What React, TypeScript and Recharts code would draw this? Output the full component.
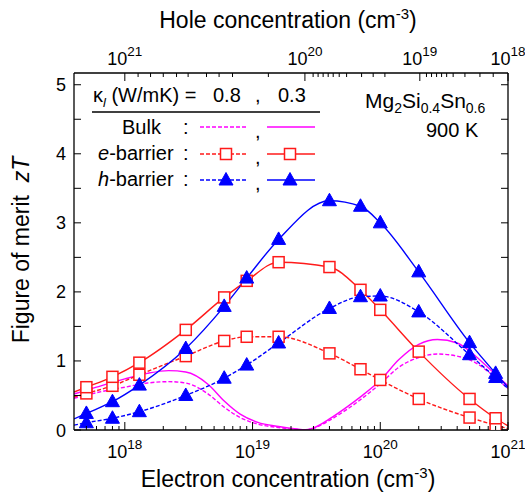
import React from "react";
import { LineChart, Line, XAxis, YAxis } from "recharts";

// ---------- data ----------
const X_MIN = 4e17;
const X_MAX = 1e21;
const MARKER_X = [5e17, 8e17, 1.3e18, 3e18, 6e18, 9e18, 1.6e19, 4e19, 7e19, 1e20, 2e20, 5e20, 8e20];

const E_BARRIER_03 = [0.62, 0.77, 0.975, 1.45, 1.92, 2.16, 2.43, 2.36, 2.03, 1.74, 1.135, 0.45, 0.17];
const E_BARRIER_03_EDGES = [0.55, 0.06];
const E_BARRIER_08 = [0.53, 0.64, 0.8, 1.07, 1.29, 1.35, 1.35, 1.11, 0.88, 0.725, 0.45, 0.18, 0.07];
const E_BARRIER_08_EDGES = [0.48, 0.02];
const H_BARRIER_03 = [0.24, 0.41, 0.65, 1.18, 1.79, 2.2, 2.76, 3.32, 3.24, 3.0, 2.29, 1.265, 0.82];
const H_BARRIER_03_EDGES = [0.16, 0.62];
const H_BARRIER_08 = [0.105, 0.17, 0.265, 0.5, 0.75, 0.94, 1.26, 1.76, 1.93, 1.94, 1.71, 1.09, 0.76];
const H_BARRIER_08_EDGES = [0.07, 0.6];

const BULK_X = [4e17, 6e17, 1e18, 1.5e18, 2.2e18, 3e18, 4.5e18, 6e18, 8e18, 1.1e19, 1.6e19, 2.2e19, 2.6e19, 3e19, 4e19, 5.5e19, 7e19, 1e20, 1.4e20, 2e20, 2.8e20, 4e20, 5.5e20, 7.5e20, 1e21];
const BULK_03 = [0.52, 0.62, 0.74, 0.82, 0.86, 0.84, 0.66, 0.42, 0.23, 0.11, 0.05, 0.014, 0.003, 0.03, 0.16, 0.335, 0.48, 0.72, 1.02, 1.24, 1.31, 1.26, 1.08, 0.85, 0.64];
const BULK_08 = [0.46, 0.54, 0.62, 0.68, 0.7, 0.68, 0.52, 0.33, 0.18, 0.085, 0.035, 0.01, 0.002, 0.025, 0.14, 0.3, 0.44, 0.67, 0.91, 1.05, 1.1, 1.07, 0.98, 0.8, 0.6];

// bottom axis (electron concentration)
const BOTTOM_MAJOR = [1e18, 1e19, 1e20, 1e21];
const BOTTOM_MAJOR_EXP = ["18", "19", "20", "21"];
const BOTTOM_MINOR = [
  5e17, 6e17, 7e17, 8e17, 9e17,
  2e18, 3e18, 4e18, 5e18, 6e18, 7e18, 8e18, 9e18,
  2e19, 3e19, 4e19, 5e19, 6e19, 7e19, 8e19, 9e19,
  2e20, 3e20, 4e20, 5e20, 6e20, 7e20, 8e20, 9e20,
];

// top axis (hole concentration) — positions expressed on the electron scale
const TOP_MAJOR = [1e18, 2.57e19, 2.04e20, 1e21];
const TOP_MAJOR_EXP = ["21", "20", "19", "18"];
const TOP_MINOR = [
  1.27e18, 1.59e18, 2.0e18, 2.54e18, 3.13e18, 4.36e18, 5.47e18, 6.97e18, 1.33e19,
  2.98e19, 3.26e19, 3.57e19, 3.91e19, 4.28e19, 4.77e19, 5.45e19, 7.14e19, 8.8e19, 1.087e20,
  2.3e20, 2.52e20, 2.76e20, 3.02e20, 3.31e20, 3.72e20, 4.6e20, 6.03e20, 7.66e20,
];

const Y_MAJOR = [0, 1, 2, 3, 4, 5];
const Y_MINOR = [0.5, 1.5, 2.5, 3.5, 4.5];
const Y_MAX = 5.17;

// ---------- helpers ----------
const FONT = "'Liberation Sans', Arial, Helvetica, sans-serif";
const MAGENTA = "#ff00ff";
const RED = "#ff1a1a";
const BLUE = "#0000ff";

type Pt = { x: number; y: number; m: boolean };
const buildSeries = (vals: number[], edges: number[]): Pt[] => [
  { x: X_MIN, y: edges[0], m: false },
  ...MARKER_X.map((x, i) => ({ x, y: vals[i], m: true })),
  { x: X_MAX, y: edges[1], m: false },
];
const buildBulk = (vals: number[]): Pt[] => BULK_X.map((x, i) => ({ x, y: vals[i], m: false }));

const bulk03 = buildBulk(BULK_03);
const bulk08 = buildBulk(BULK_08);
const e03 = buildSeries(E_BARRIER_03, E_BARRIER_03_EDGES);
const e08 = buildSeries(E_BARRIER_08, E_BARRIER_08_EDGES);
const h03 = buildSeries(H_BARRIER_03, H_BARRIER_03_EDGES);
const h08 = buildSeries(H_BARRIER_08, H_BARRIER_08_EDGES);

const Square = ({ cx, cy }: { cx: number; cy: number }) => (
  <rect x={cx - 5.5} y={cy - 5.5} width={11} height={11} fill="#fff" stroke={RED} strokeWidth={1.5} />
);
const Triangle = ({ cx, cy }: { cx: number; cy: number }) => (
  <path d={`M${cx},${cy - 7.5} L${cx + 7},${cy + 5} L${cx - 7},${cy + 5} Z`} fill={BLUE} stroke={BLUE} strokeWidth={1} />
);

const squareDot = (p: any) =>
  p.payload && p.payload.m ? <Square key={`s${p.index}`} cx={p.cx} cy={p.cy} /> : <g key={`s${p.index}`} />;
const triDot = (p: any) =>
  p.payload && p.payload.m ? <Triangle key={`t${p.index}`} cx={p.cx} cy={p.cy} /> : <g key={`t${p.index}`} />;

const BottomTick = (props: any) => {
  const { x, y, payload } = props;
  const idx = BOTTOM_MAJOR.indexOf(payload.value);
  const major = idx >= 0;
  return (
    <g>
      <line x1={x} x2={x} y1={y} y2={y - (major ? 8 : 4)} stroke="#000" strokeWidth={1} />
      {major && (
        <text x={x} y={y + 28} textAnchor="middle" fontFamily={FONT} fontSize={18} fill="#000">
          10<tspan dy={-9} fontSize={13.5}>{BOTTOM_MAJOR_EXP[idx]}</tspan>
        </text>
      )}
    </g>
  );
};

const TopTick = (props: any) => {
  const { x, y, payload } = props;
  const idx = TOP_MAJOR.indexOf(payload.value);
  const major = idx >= 0;
  return (
    <g>
      <line x1={x} x2={x} y1={y} y2={y + (major ? 8 : 4)} stroke="#000" strokeWidth={1} />
      {major && (
        <text x={x} y={y - 8} textAnchor="middle" fontFamily={FONT} fontSize={18} fill="#000">
          10<tspan dy={-9} fontSize={13.5}>{TOP_MAJOR_EXP[idx]}</tspan>
        </text>
      )}
    </g>
  );
};

const LeftTick = (props: any) => {
  const { x, y, payload } = props;
  const major = Y_MAJOR.includes(payload.value);
  return (
    <g>
      <line x1={x} x2={x + 7} y1={y} y2={y} stroke="#000" strokeWidth={1} />
      {major && (
        <text x={x - 8} y={y + 6.5} textAnchor="end" fontFamily={FONT} fontSize={18} fill="#000">
          {payload.value}
        </text>
      )}
    </g>
  );
};

const RightTick = (props: any) => {
  const { x, y } = props;
  return <line x1={x} x2={x - 7} y1={y} y2={y} stroke="#000" strokeWidth={1} />;
};

const axisLineStyle = { stroke: "#000", strokeWidth: 1.3 };

export default function App() {
  return (
    <div style={{ position: "absolute", left: 0, top: 0, width: 525, height: 493, background: "#fff" }}>
      <LineChart width={525} height={493} margin={{ top: 0, right: 0, bottom: 0, left: 0 }}>
        <XAxis
          xAxisId="bottom"
          dataKey="x"
          type="number"
          scale="log"
          domain={[X_MIN, X_MAX]}
          allowDataOverflow
          ticks={[...BOTTOM_MAJOR, ...BOTTOM_MINOR]}
          interval={0}
          tick={BottomTick}
          tickLine={false}
          tickSize={0}
          tickMargin={0}
          axisLine={axisLineStyle}
          height={63}
        />
        <XAxis
          xAxisId="top"
          orientation="top"
          dataKey="x"
          type="number"
          scale="log"
          domain={[X_MIN, X_MAX]}
          allowDataOverflow
          ticks={[...TOP_MAJOR, ...TOP_MINOR]}
          interval={0}
          tick={TopTick}
          tickLine={false}
          tickSize={0}
          tickMargin={0}
          axisLine={axisLineStyle}
          height={73}
        />
        <YAxis
          yAxisId="left"
          type="number"
          domain={[0, Y_MAX]}
          allowDataOverflow
          ticks={[...Y_MAJOR, ...Y_MINOR]}
          interval={0}
          tick={LeftTick}
          tickLine={false}
          tickSize={0}
          tickMargin={0}
          axisLine={axisLineStyle}
          width={74}
        />
        <YAxis
          yAxisId="right"
          orientation="right"
          type="number"
          domain={[0, Y_MAX]}
          allowDataOverflow
          ticks={[...Y_MAJOR, ...Y_MINOR]}
          interval={0}
          tick={RightTick}
          tickLine={false}
          tickSize={0}
          tickMargin={0}
          axisLine={axisLineStyle}
          width={17}
        />
        <Line xAxisId="bottom" yAxisId="left" data={bulk08} dataKey="y" type="monotone" stroke={MAGENTA} strokeWidth={1.4} strokeDasharray="4 2" dot={false} isAnimationActive={false} />
        <Line xAxisId="bottom" yAxisId="left" data={bulk03} dataKey="y" type="monotone" stroke={MAGENTA} strokeWidth={1.4} dot={false} isAnimationActive={false} />
        <Line xAxisId="bottom" yAxisId="left" data={e08} dataKey="y" type="monotone" stroke={RED} strokeWidth={1.4} strokeDasharray="4 2" dot={squareDot} isAnimationActive={false} />
        <Line xAxisId="bottom" yAxisId="left" data={e03} dataKey="y" type="monotone" stroke={RED} strokeWidth={1.4} dot={squareDot} isAnimationActive={false} />
        <Line xAxisId="bottom" yAxisId="left" data={h08} dataKey="y" type="monotone" stroke={BLUE} strokeWidth={1.4} strokeDasharray="4 2" dot={triDot} isAnimationActive={false} />
        <Line xAxisId="bottom" yAxisId="left" data={h03} dataKey="y" type="monotone" stroke={BLUE} strokeWidth={1.4} dot={triDot} isAnimationActive={false} />
      </LineChart>

      <svg width={525} height={493} style={{ position: "absolute", left: 0, top: 0, pointerEvents: "none" }} fontFamily={FONT}>
        {/* axis titles */}
        <text x={288} y={28} textAnchor="middle" fontSize={23}>
          Hole concentration (cm<tspan dy={-9} fontSize={15}>-3</tspan><tspan dy={9}>)</tspan>
        </text>
        <text x={288} y={487} textAnchor="middle" fontSize={23}>
          Electron concentration (cm<tspan dy={-9} fontSize={15}>-3</tspan><tspan dy={9}>)</tspan>
        </text>
        <text transform="translate(29,250) rotate(-90)" textAnchor="middle" fontSize={23}>
          {"Figure of merit\u00a0\u00a0"}<tspan fontStyle="italic">zT</tspan>
        </text>

        {/* legend header */}
        <text x={93} y={102} fontSize={20}>
          κ<tspan dy={5} fontSize={13} fontStyle="italic">l</tspan><tspan dy={-5}> (W/mK) =</tspan>
        </text>
        <text x={213} y={102} fontSize={20}>0.8</text>
        <text x={255} y={102} fontSize={20}>,</text>
        <text x={278} y={102} fontSize={20}>0.3</text>
        <line x1={92} x2={320} y1={112} y2={112} stroke="#000" strokeWidth={1.3} />

        {/* Bulk row */}
        <text x={122} y={134} fontSize={20}>Bulk</text>
        <text x={183} y={134} fontSize={20}>:</text>
        <line x1={200} x2={248} y1={127} y2={127} stroke={MAGENTA} strokeWidth={1.4} strokeDasharray="4 2" />
        <text x={255} y={138} fontSize={20}>,</text>
        <line x1={267} x2={315} y1={127} y2={127} stroke={MAGENTA} strokeWidth={1.4} />

        {/* e-barrier row */}
        <text x={98} y={160} fontSize={20}>
          <tspan fontStyle="italic">e</tspan>-barrier
        </text>
        <text x={183} y={160} fontSize={20}>:</text>
        <line x1={200} x2={248} y1={154} y2={154} stroke={RED} strokeWidth={1.4} strokeDasharray="4 2" />
        <Square cx={226} cy={154} />
        <text x={255} y={164} fontSize={20}>,</text>
        <line x1={267} x2={315} y1={154} y2={154} stroke={RED} strokeWidth={1.4} />
        <Square cx={290} cy={154} />

        {/* h-barrier row */}
        <text x={98} y={186} fontSize={20}>
          <tspan fontStyle="italic">h</tspan>-barrier
        </text>
        <text x={183} y={186} fontSize={20}>:</text>
        <line x1={200} x2={248} y1={180} y2={180} stroke={BLUE} strokeWidth={1.4} strokeDasharray="4 2" />
        <Triangle cx={226} cy={180} />
        <text x={255} y={190} fontSize={20}>,</text>
        <line x1={267} x2={315} y1={180} y2={180} stroke={BLUE} strokeWidth={1.4} />
        <Triangle cx={290} cy={180} />

        {/* material label */}
        <text x={365} y={108} fontSize={21}>
          Mg<tspan dy={5} fontSize={14}>2</tspan><tspan dy={-5}>Si</tspan><tspan dy={5} fontSize={14}>0.4</tspan><tspan dy={-5}>Sn</tspan><tspan dy={5} fontSize={14}>0.6</tspan>
        </text>
        <text x={426} y={137} fontSize={20}>900 K</text>
      </svg>
    </div>
  );
}
